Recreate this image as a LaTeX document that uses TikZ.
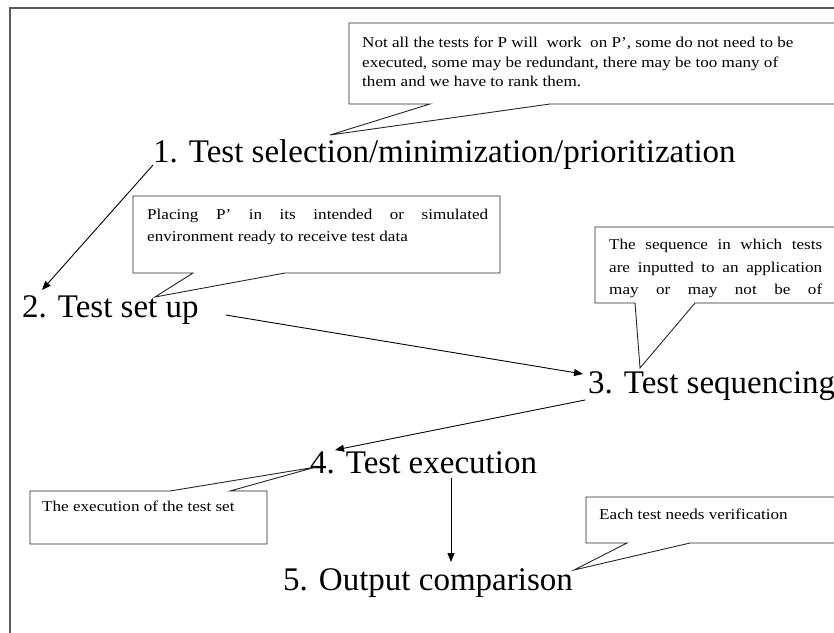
\documentclass[tikz,border=0pt]{standalone}
\usepackage{fontspec}
\setmainfont{Liberation Serif}
\newfontfamily\notefont{Liberation Serif}[FakeStretch=1.14]
\usetikzlibrary{arrows.meta,positioning}

\tikzset{
  stage/.style={inner sep=0pt, anchor=base west, font=\fontsize{33}{38}\selectfont},
  note/.style={inner sep=0pt, anchor=base west, align=left, font=\notefont\fontsize{15}{19.5}\selectfont},
  callbox/.style={inner sep=0pt, outer sep=0pt, anchor=north west},
  callline/.style={draw=black!85, line width=0.9pt},
  flow/.style={-{Triangle[length=9pt,width=7pt]}, line width=0.9pt},
  frame/.style={draw=black!65, line width=2pt}
}

\begin{document}
\begin{tikzpicture}[x=1pt, y=-1pt]
  \useasboundingbox (0,0) rectangle (834,632);
  \clip (0,0) rectangle (834,632);
  \draw[frame] (10,640) -- (10,8) -- (840,8);

  % the five stages
  \node[stage] (t1) at (153,162) {1. Test selection/minimization/prioritization};
  \node[stage] (t2) at (22,317) {2. Test set up};
  \node[stage] (t3) at (588,393) {3. Test sequencing};
  \node[stage] (t4) at (310,473) {4. Test execution};
  \node[stage] (t5) at (283,590) {5. Output comparison};

  \draw[flow] ([yshift=-3pt]t1.base west) -- ([xshift=20pt,yshift=27pt]t2.base west);
  \draw[flow] ([xshift=27pt,yshift=2pt]t2.base east) -- ([xshift=-5pt,yshift=19pt]t3.base west);
  \draw[flow] ([xshift=-3pt,yshift=-7pt]t3.base west) -- ([xshift=25pt,yshift=23pt]t4.base west);
  \draw[flow] ([xshift=141pt,yshift=-5pt]t4.base west) -- ([xshift=168pt,yshift=28pt]t5.base west);

  % callout tips
  \coordinate (tip1) at ([xshift=177pt,yshift=27pt]t1.base west);
  \coordinate (tip2) at ([xshift=133pt,yshift=20pt]t2.base west);
  \coordinate (tip3) at ([xshift=52pt,yshift=25pt]t3.base west);
  \coordinate (tip4) at ([xshift=6pt,yshift=6pt]t4.base west);
  \coordinate (tip5) at ([xshift=1pt,yshift=20pt]t5.base east);

  % callout boxes
  \node[callbox, minimum width=496pt, minimum height=81pt] (b1) at (349,23) {};
  \node[callbox, minimum width=367pt, minimum height=77pt] (b2) at (133,196) {};
  \node[callbox, minimum width=250pt, minimum height=76pt] (b3) at (595,227) {};
  \node[callbox, minimum width=237pt, minimum height=53pt] (b4) at (30,491) {};
  \node[callbox, minimum width=259pt, minimum height=46pt] (b5) at (586,497) {};

  \draw[callline] (b1.north west) -- (b1.north east) -- (b1.south east)
    -- ([xshift=201pt]b1.south west) -- (tip1) -- ([xshift=81pt]b1.south west)
    -- (b1.south west) -- cycle;
  \draw[callline] (b2.north west) -- (b2.north east) -- (b2.south east)
    -- ([xshift=152pt]b2.south west) -- (tip2) -- ([xshift=60pt]b2.south west)
    -- (b2.south west) -- cycle;
  \draw[callline] (b3.north west) -- (b3.north east) -- (b3.south east)
    -- ([xshift=100pt]b3.south west) -- (tip3) -- ([xshift=40pt]b3.south west)
    -- (b3.south west) -- cycle;
  \draw[callline] (b4.north west) -- ([xshift=140pt]b4.north west) -- (tip4)
    -- ([xshift=200pt]b4.north west) -- (b4.north east) -- (b4.south east)
    -- (b4.south west) -- cycle;
  \draw[callline] (b5.north west) -- (b5.north east) -- (b5.south east)
    -- ([xshift=104pt]b5.south west) -- (tip5) -- ([xshift=41pt]b5.south west)
    -- (b5.south west) -- cycle;

  % callout texts (base = last line)
  \node[note] (n1) at (362,86.5) {Not all the tests for P will~ work~ on P’, some do not need to be\\
    executed, some may be redundant, there may be too many of\\
    them and we have to rank them.};
  \node[note, font=\notefont\fontsize{15}{22}\selectfont] (n2) at (147,241.5)
    {\makebox[341pt][s]{Placing P’ in its intended or simulated}\\
    environment ready to receive test data};
  \node[note, font=\notefont\fontsize{15}{22.5}\selectfont] (n3) at (609,294.5)
    {\makebox[213pt][s]{The sequence in which tests}\\
    \makebox[213pt][s]{are inputted to an application}\\
    \makebox[213pt][s]{may or may not be of}};
  \node[note] (n4) at (42,511) {The execution of the test set};
  \node[note] (n5) at (599,519.5) {Each test needs verification};
\end{tikzpicture}
\end{document}
